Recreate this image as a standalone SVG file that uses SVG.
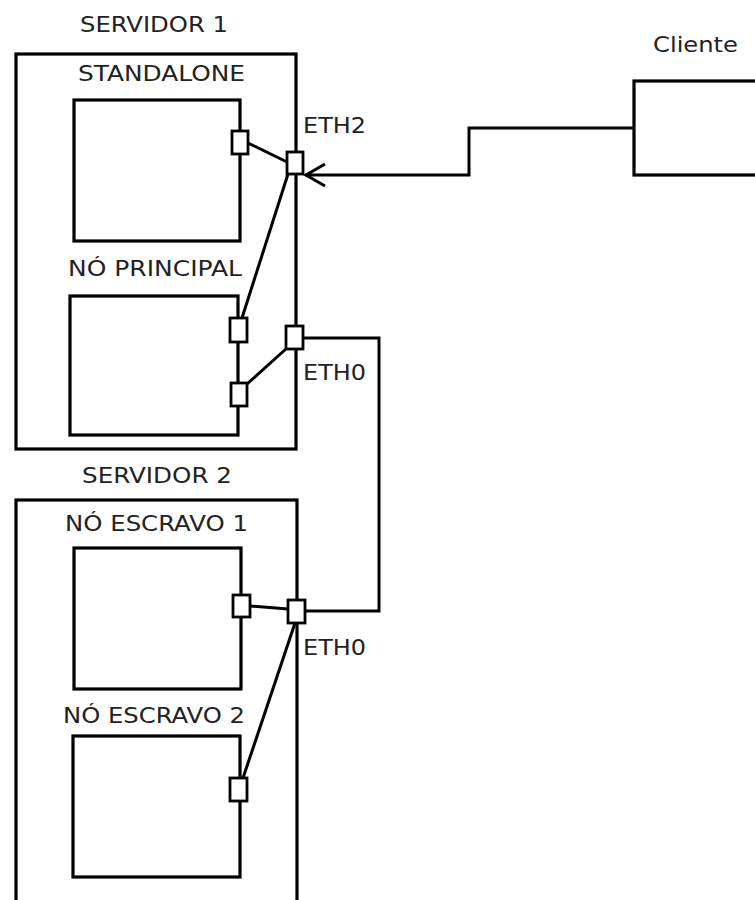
<svg xmlns="http://www.w3.org/2000/svg" width="755" height="900" viewBox="0 0 755 900">
<style>
.box{fill:#fff;stroke:#000;stroke-width:3.2}
.port{fill:#fff;stroke:#000;stroke-width:2.8}
.ln{fill:none;stroke:#000;stroke-width:3}
text{font-family:"DejaVu Sans",sans-serif;font-size:22px;fill:#222}
</style>
<rect width="755" height="900" fill="#fff"/>
<g id="servidor1">
<rect class="box" x="16" y="54" width="280" height="395"/>
<text x="80" y="32" textLength="148" lengthAdjust="spacingAndGlyphs">SERVIDOR 1</text>
</g>
<g id="standalone">
<rect class="box" x="74" y="100" width="166" height="141"/>
<text x="78" y="81" textLength="167" lengthAdjust="spacingAndGlyphs">STANDALONE</text>
<rect class="port" x="232" y="131" width="16" height="23"/>
</g>
<g id="no-principal">
<rect class="box" x="70" y="296" width="168" height="139"/>
<text x="68" y="276" textLength="174" lengthAdjust="spacingAndGlyphs">NÓ PRINCIPAL</text>
<rect class="port" x="230" y="318" width="17" height="24"/>
<rect class="port" x="231" y="383" width="16" height="23"/>
</g>
<g id="eth2">
<rect class="port" x="287" y="152" width="16" height="22"/>
<text x="303" y="133" textLength="63" lengthAdjust="spacingAndGlyphs">ETH2</text>
</g>
<g id="eth0-s1">
<rect class="port" x="286" y="326" width="17" height="23"/>
<text x="303" y="380" textLength="63" lengthAdjust="spacingAndGlyphs">ETH0</text>
</g>
<g id="servidor2">
<rect class="box" x="16" y="500" width="281" height="420"/>
<text x="82" y="483" textLength="150" lengthAdjust="spacingAndGlyphs">SERVIDOR 2</text>
</g>
<g id="no-escravo1">
<rect class="box" x="74" y="548" width="167" height="141"/>
<text x="65" y="531" textLength="183" lengthAdjust="spacingAndGlyphs">NÓ ESCRAVO 1</text>
<rect class="port" x="233" y="595" width="17" height="22"/>
</g>
<g id="no-escravo2">
<rect class="box" x="73" y="736" width="167" height="141"/>
<text x="63" y="723" textLength="182" lengthAdjust="spacingAndGlyphs">NÓ ESCRAVO 2</text>
<rect class="port" x="230" y="778" width="17" height="23"/>
</g>
<g id="eth0-s2">
<rect class="port" x="288" y="600" width="17" height="23"/>
<text x="303" y="655" textLength="63" lengthAdjust="spacingAndGlyphs">ETH0</text>
</g>
<g id="cliente">
<rect class="box" x="634" y="81" width="180" height="94"/>
<text x="653" y="52" textLength="85" lengthAdjust="spacingAndGlyphs">Cliente</text>
</g>
<g id="connectors">
<line class="ln" x1="248" y1="143" x2="287" y2="162"/>
<line class="ln" x1="288" y1="174" x2="242" y2="318"/>
<line class="ln" x1="247" y1="384" x2="287" y2="348"/>
<line class="ln" x1="250" y1="606" x2="288" y2="609"/>
<line class="ln" x1="295" y1="623" x2="243" y2="778"/>
<polyline class="ln" points="303,338 379,338 379,611 305,611"/>
<polyline class="ln" points="634,128 469,128 469,175 305,175"/>
<polyline class="ln" points="325,164 306,175 325,186"/>
</g>
</svg>
